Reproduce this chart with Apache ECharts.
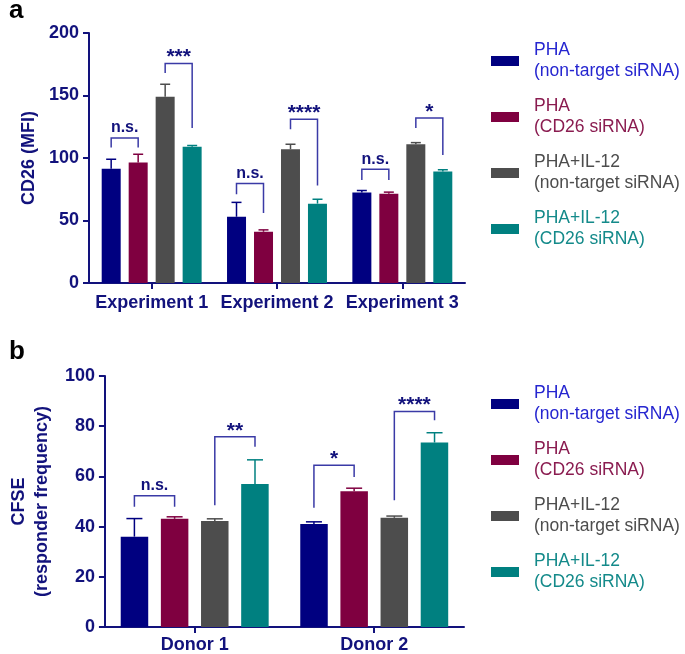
<!DOCTYPE html>
<html>
<head>
<meta charset="utf-8">
<script src="https://cdn.jsdelivr.net/npm/echarts@6/dist/echarts.min.js"></script>
<style>
  html, body { margin: 0; padding: 0; background: #fff; }
  #main { width: 685px; height: 654px; }
</style>
</head>
<body>
<div id="main"></div>
<script>
// series / legend names
var seriesNames = ['PHA\n(non-target siRNA)', 'PHA\n(CD26 siRNA)', 'PHA+IL-12\n(non-target siRNA)', 'PHA+IL-12\n(CD26 siRNA)'];

// panel a : CD26 (MFI)
var expCategories = ['Experiment 1', 'Experiment 2', 'Experiment 3'];
var expPhaNt     = [91.5, 53, 72.5];
var expPhaCd26   = [96.5, 41, 71.5];
var expIl12Nt    = [149, 107, 111];
var expIl12Cd26  = [109, 63.5, 89.3];
var expErrPhaNt    = [7.5, 11.5, 1.5];
var expErrPhaCd26  = [6.5, 1.5, 1.2];
var expErrIl12Nt   = [10, 4, 1.3];
var expErrIl12Cd26 = [1, 3.5, 1.3];
var expTicks = [0, 50, 100, 150, 200];
// [category, left bar, right bar, bracket top, left leg end, right leg end]
var expBrackets = [
  [0, 0, 1, 116, 108.5, 108.5],
  [0, 2, 3, 175.7, 168, 124],
  [1, 0, 1, 79.7, 71, 56],
  [1, 2, 3, 131, 123, 78],
  [2, 0, 1, 91, 82.4, 82.4],
  [2, 2, 3, 132, 124, 102.4]
];
var expBracketLabels = ['n.s.', '***', 'n.s.', '****', 'n.s.', '*'];

// panel b : CFSE
var donorCategories = ['Donor 1', 'Donor 2'];
var donorPhaNt     = [36, 41];
var donorPhaCd26   = [43.1, 54.1];
var donorIl12Nt    = [42.2, 43.5];
var donorIl12Cd26  = [57, 73.5];
var donorErrPhaNt    = [7.2, 0.9];
var donorErrPhaCd26  = [0.8, 1.2];
var donorErrIl12Nt   = [0.9, 0.7];
var donorErrIl12Cd26 = [9.6, 3.9];
var donorTicks = [0, 20, 40, 60, 80, 100];
var donorBrackets = [
  [0, 0, 1, 52.3, 47.9, 47.9],
  [0, 2, 3, 75.8, 48.5, 71.8],
  [1, 0, 1, 64.4, 47.5, 59.8],
  [1, 2, 3, 85.9, 50.5, 82.4]
];
var donorBracketLabels = ['n.s.', '**', '*', '****'];

var barColors = ['#000080', '#7f0040', '#4d4d4d', '#008080'];
var legendTextColors = ['#2626d0', '#8a1c50', '#4d4d4d', '#148a8a'];
var navy = '#12127c';
var bracketColor = '#3a3aa6';
var FONT = '"Liberation Sans", Arial, sans-serif';

var chart = echarts.init(document.getElementById('main'));

function barX(api, cat, s, step) {
  return api.coord([cat, 0])[0] + (s - 1.5) * step;
}

function errorSeries(gi, means, errs, step, capW) {
  var data = [];
  for (var s = 0; s < means.length; s++) {
    for (var c = 0; c < means[s].length; c++) {
      data.push([c, s, means[s][c], errs[s][c]]);
    }
  }
  return {
    type: 'custom',
    xAxisIndex: gi, yAxisIndex: gi,
    silent: true, z: 3,
    data: data,
    renderItem: function (params, api) {
      var c = api.value(0), s = api.value(1);
      var x = barX(api, c, s, step);
      var y0 = api.coord([c, api.value(2)])[1];
      var y1 = api.coord([c, api.value(2) + api.value(3)])[1];
      var st = { stroke: barColors[s], lineWidth: 1.5 };
      return {
        type: 'group',
        children: [
          { type: 'line', shape: { x1: x, y1: y0, x2: x, y2: y1 }, style: st },
          { type: 'line', shape: { x1: x - capW / 2, y1: y1, x2: x + capW / 2, y2: y1 }, style: st }
        ]
      };
    }
  };
}

function bracketSeries(gi, brackets, labels, step) {
  return {
    type: 'custom',
    xAxisIndex: gi, yAxisIndex: gi,
    silent: true, z: 4,
    data: brackets,
    renderItem: function (params, api) {
      var c = api.value(0);
      var xl = barX(api, c, api.value(1), step);
      var xr = barX(api, c, api.value(2), step);
      var yt = api.coord([c, api.value(3)])[1];
      var yl = api.coord([c, api.value(4)])[1];
      var yr = api.coord([c, api.value(5)])[1];
      var lab = labels[params.dataIndex];
      var isStar = lab.indexOf('*') === 0;
      return {
        type: 'group',
        children: [
          { type: 'polyline', shape: { points: [[xl, yl], [xl, yt], [xr, yt], [xr, yr]] },
            style: { stroke: bracketColor, lineWidth: 1.5, fill: null } },
          { type: 'text', x: (xl + xr) / 2, y: isStar ? yt - 6 : yt - 10,
            style: { text: lab, fill: navy, align: 'center', verticalAlign: 'middle',
                     font: isStar ? 'bold 21px ' + FONT : 'bold 16px ' + FONT } }
        ]
      };
    }
  };
}

function barSeries(gi, means, width, gap) {
  return means.map(function (vals, s) {
    return {
      name: seriesNames[s], type: 'bar',
      xAxisIndex: gi, yAxisIndex: gi,
      barWidth: width, barGap: gap,
      itemStyle: { color: barColors[s] },
      data: vals
    };
  });
}

function legendFor(top) {
  return {
    orient: 'vertical', left: 486, top: top,
    itemWidth: 28, itemHeight: 10, itemGap: 14,
    icon: 'rect', selectedMode: false,
    textStyle: { fontSize: 17.5, lineHeight: 21, fontFamily: FONT, padding: [0, 0, 0, 10] },
    data: seriesNames.map(function (n, i) {
      return { name: n, textStyle: { color: legendTextColors[i] } };
    })
  };
}

var axisLine = { show: true, lineStyle: { color: navy, width: 2 } };
var axisTick = { show: true, length: 6, lineStyle: { color: navy, width: 2 } };
var tickLabel = { color: navy, fontSize: 18, fontWeight: 'bold', fontFamily: FONT };

var expMeans = [expPhaNt, expPhaCd26, expIl12Nt, expIl12Cd26];
var expErrs = [expErrPhaNt, expErrPhaCd26, expErrIl12Nt, expErrIl12Cd26];
var donorMeans = [donorPhaNt, donorPhaCd26, donorIl12Nt, donorIl12Cd26];
var donorErrs = [donorErrPhaNt, donorErrPhaCd26, donorErrIl12Nt, donorErrIl12Cd26];

chart.setOption({
  animation: false,
  backgroundColor: '#fff',
  grid: [
    { left: 89, right: 220, top: 33, bottom: 371 },
    { left: 88, right: 221, top: 376, bottom: 27 }
  ],
  legend: [legendFor(35), legendFor(378)],
  xAxis: [
    { type: 'category', gridIndex: 0, data: expCategories,
      axisLine: axisLine, axisTick: Object.assign({ alignWithLabel: true }, axisTick),
      axisLabel: Object.assign({ margin: 11, interval: 0, hideOverlap: false }, tickLabel) },
    { type: 'category', gridIndex: 1, data: donorCategories,
      axisLine: axisLine, axisTick: Object.assign({ alignWithLabel: true }, axisTick),
      axisLabel: Object.assign({ margin: 9, interval: 0 }, tickLabel) }
  ],
  yAxis: [
    { type: 'value', gridIndex: 0, min: expTicks[0], max: expTicks[expTicks.length - 1], interval: 50,
      name: 'CD26 (MFI)', nameLocation: 'middle', nameGap: 50, nameRotate: 90,
      nameTextStyle: { color: navy, fontSize: 18, fontWeight: 'bold', fontFamily: FONT },
      axisLine: axisLine, axisTick: axisTick, splitLine: { show: false },
      axisLabel: Object.assign({ margin: 10 }, tickLabel) },
    { type: 'value', gridIndex: 1, min: donorTicks[0], max: donorTicks[donorTicks.length - 1], interval: 20,
      name: 'CFSE\n(responder frequency)', nameLocation: 'middle', nameGap: 44, nameRotate: 90,
      nameTextStyle: { color: navy, fontSize: 18, lineHeight: 23, fontWeight: 'bold', fontFamily: FONT },
      axisLine: axisLine, axisTick: axisTick, splitLine: { show: false },
      axisLabel: Object.assign({ margin: 10 }, tickLabel) }
  ],
  graphic: [
    { type: 'text', left: 9, top: -2, style: { text: 'a', font: 'bold 26px ' + FONT, fill: '#000' } },
    { type: 'text', left: 9, top: 339, style: { text: 'b', font: 'bold 26px ' + FONT, fill: '#000' } }
  ],
  series: [].concat(
    barSeries(0, expMeans, 19, '42%'),
    barSeries(1, donorMeans, 27.5, '46%'),
    [
      errorSeries(0, expMeans, expErrs, 27, 10),
      errorSeries(1, donorMeans, donorErrs, 40.2, 16),
      bracketSeries(0, expBrackets, expBracketLabels, 27),
      bracketSeries(1, donorBrackets, donorBracketLabels, 40.2)
    ]
  )
});
</script>
</body>
</html>
